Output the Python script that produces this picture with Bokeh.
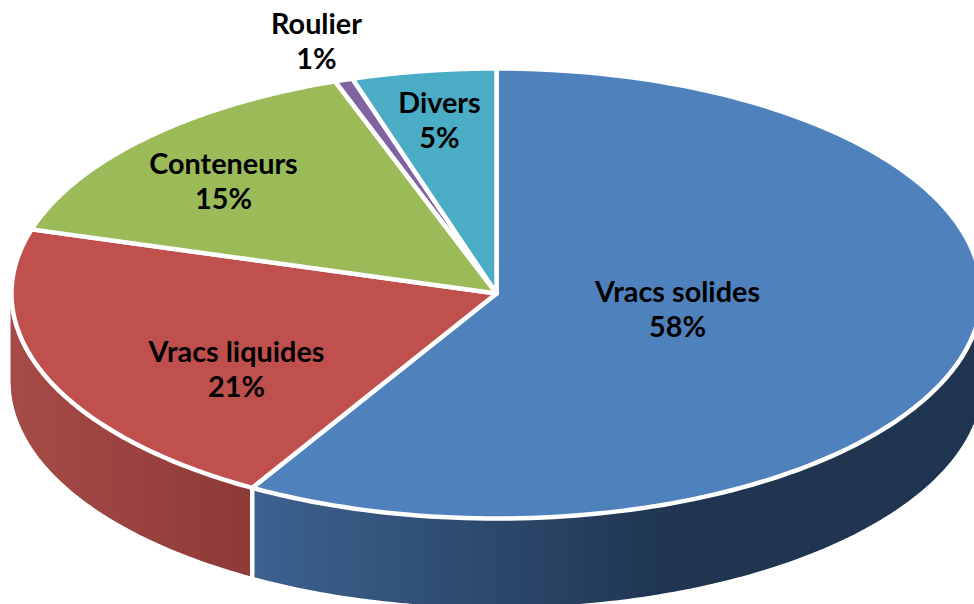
import numpy as np
from bokeh.plotting import figure
from bokeh.models import Range1d
from bokeh.core.properties import value
from bokeh.embed import file_html
from bokeh.resources import INLINE

categories = ["Vracs solides", "Vracs liquides", "Conteneurs", "Roulier", "Divers"]
shares = [58.4, 21.2, 15.0, 0.6, 4.8]
labels = ["58%", "21%", "15%", "1%", "5%"]
colors = ["#4f81bd", "#c0504d", "#9bbb59", "#8064a2", "#4bacc6"]
side_from = ["#3d6290", "#a64b48", "#9bbb59", "#8064a2", "#4bacc6"]
side_to = ["#1f3550", "#8e3a38", "#9bbb59", "#8064a2", "#4bacc6"]

CX, CY, RX, RY, DEPTH = 496, 293, 485, 225, 88
W, H = 974, 604
label_xy = [(677, 290), (236, 350), (223, 162), (316, 22), (439, 101)]


def ell(t, dy=0.0):
    # t: degrees clockwise from 12 o'clock
    r = np.radians(t)
    return CX + RX * np.sin(r), CY - RY * np.cos(r) + dy


def mix(a, b, f):
    f = min(max(f, 0), 1)
    ca = [int(a[i:i + 2], 16) for i in (1, 3, 5)]
    cb = [int(b[i:i + 2], 16) for i in (1, 3, 5)]
    return "#%02x%02x%02x" % tuple(round(x + (y - x) * f) for x, y in zip(ca, cb))


p = figure(width=W, height=H, x_range=Range1d(0, W), y_range=Range1d(H, 0),
           output_backend="svg", toolbar_location=None, min_border=0,
           x_axis_type=None, y_axis_type=None, outline_line_color=None,
           background_fill_color="white", border_fill_color="white")
p.grid.visible = False

edges = np.concatenate([[0], np.cumsum(shares)]) / sum(shares) * 360

# visible wall of the disc, as narrow strips shaded from left to right
xs, ys, cs = [], [], []
for i in range(2):
    a0, a1 = max(edges[i], 90), min(edges[i + 1], 270)
    steps = np.linspace(a0, a1, int((a1 - a0) / 1.0) + 2)
    for s0, s1 in zip(steps[:-1], steps[1:]):
        x0, y0 = ell(s0)
        x1, y1 = ell(s1)
        xb0, yb0 = ell(s0, DEPTH)
        xb1, yb1 = ell(s1, DEPTH)
        xm = (x0 + x1) / 2
        if i == 0:
            f = (xm - ell(edges[1])[0]) / 420
        else:
            f = (xm - 12) / (ell(edges[1])[0] - 12)
        xs.append([x0, x1, xb1, xb0])
        ys.append([y0, y1, yb1, yb0])
        cs.append(mix(side_from[i], side_to[i], f))
p.patches(xs, ys, fill_color=cs, line_color=cs, line_width=1.6)

# white seam between the two visible wall parts
sx, sy = ell(edges[1])
sbx, sby = ell(edges[1], DEPTH)
p.line([sx, sbx], [sy, sby + 3], line_color="white", line_width=4.5)

# top face
for i in range(len(shares)):
    t = np.linspace(edges[i], edges[i + 1], 160)
    ex, ey = ell(t)
    p.patch(np.r_[CX, ex], np.r_[CY, ey], fill_color=colors[i],
            line_color="white", line_width=4.5, line_join="round")

for (x, y), c, l in zip(label_xy, categories, labels):
    p.text([x, x], [y, y + 35], text=[c, l], text_align="center", text_baseline="middle",
           text_font=value("Lato"), text_font_style="bold", text_font_size="28.8px",
           text_color="black")

open("out.html", "w").write(file_html(p, INLINE))
